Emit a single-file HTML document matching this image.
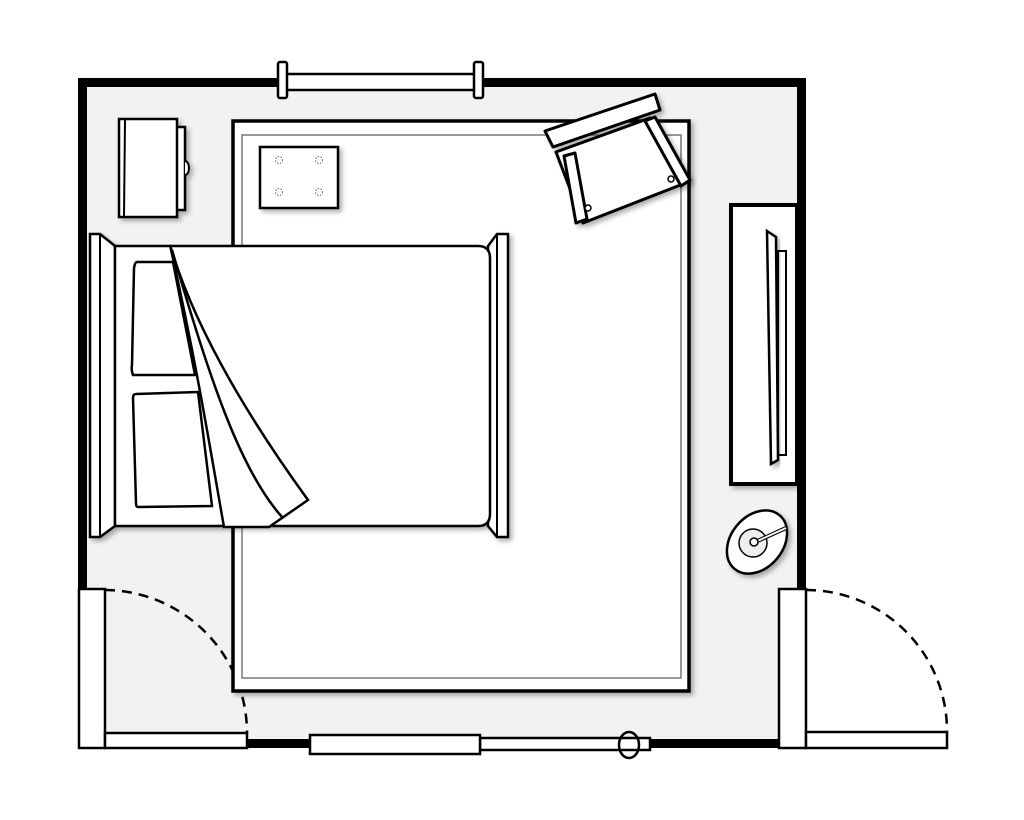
<!DOCTYPE html>
<html><head><meta charset="utf-8"><style>html,body{margin:0;padding:0;background:#fff}svg{display:block}</style></head>
<body>
<svg width="1024" height="820" viewBox="0 0 1024 820" xmlns="http://www.w3.org/2000/svg">
<defs>
<filter id="sh" x="-10%" y="-10%" width="130%" height="130%"><feDropShadow dx="3" dy="3" stdDeviation="2.5" flood-color="#000" flood-opacity="0.3"/></filter>
</defs>
<!-- floor -->
<rect x="86" y="87" width="711" height="653" fill="#f2f2f2"/>
<!-- walls -->
<rect x="78" y="78" width="728" height="9" fill="#000"/>
<rect x="78" y="78" width="9" height="512" fill="#000"/>
<rect x="797" y="78" width="9" height="512" fill="#000"/>
<rect x="245" y="739" width="70" height="9" fill="#000"/>
<rect x="645" y="739" width="140" height="9" fill="#000"/>
<!-- top window -->
<rect x="282" y="74" width="196" height="16" fill="#fff" stroke="#000" stroke-width="2.5"/>
<rect x="278" y="62" width="9" height="36" rx="2" fill="#fff" stroke="#000" stroke-width="2.5"/>
<rect x="474" y="62" width="9" height="36" rx="2" fill="#fff" stroke="#000" stroke-width="2.5"/>
<!-- bottom window -->
<rect x="480" y="738" width="170" height="12" fill="#fff" stroke="#000" stroke-width="2.5"/>
<ellipse cx="629" cy="745" rx="10" ry="13" fill="none" stroke="#000" stroke-width="2.5"/>
<rect x="310" y="735" width="170" height="19" fill="#fff" stroke="#000" stroke-width="2.5"/>
<!-- left door -->
<rect x="79" y="589" width="26" height="159" fill="#fff" stroke="#000" stroke-width="2.5"/>
<rect x="105" y="733" width="142" height="15" fill="#fff" stroke="#000" stroke-width="2.5"/>
<path d="M105,590 A143,143 0 0 1 247,733" fill="none" stroke="#000" stroke-width="2.5" stroke-dasharray="10,7"/>
<!-- right door -->
<rect x="779" y="589" width="27" height="159" fill="#fff" stroke="#000" stroke-width="2.5"/>
<rect x="806" y="732" width="141" height="16" fill="#fff" stroke="#000" stroke-width="2.5"/>
<path d="M806,590 A141,141 0 0 1 947,731" fill="none" stroke="#000" stroke-width="2.5" stroke-dasharray="10,7"/>
<!-- nightstand -->
<g filter="url(#sh)">
<rect x="174" y="127" width="11" height="83" fill="#fff" stroke="#000" stroke-width="2.5"/>
<path d="M185,161 a4,7 0 0 1 0,14" fill="#fff" stroke="#000" stroke-width="2"/>
<rect x="119" y="119" width="58" height="98" fill="#fff" stroke="#000" stroke-width="2.5"/>
<line x1="125" y1="120" x2="124" y2="216" stroke="#000" stroke-width="2"/>
</g>
<!-- rug -->
<rect x="233" y="121" width="456" height="570" fill="#fff" stroke="#000" stroke-width="3.5" filter="url(#sh)"/>
<rect x="242" y="135" width="439" height="543" fill="none" stroke="#777" stroke-width="1.5"/>
<!-- small box -->
<rect x="260" y="147" width="78" height="61" fill="#fff" stroke="#000" stroke-width="2.5" filter="url(#sh)"/>
<g fill="none" stroke="#666" stroke-width="1" stroke-dasharray="1.5,1.5">
<circle cx="279" cy="160" r="3.5"/><circle cx="319" cy="160" r="3.5"/><circle cx="279" cy="192" r="3.5"/><circle cx="319" cy="192" r="3.5"/>
</g>
<!-- bed -->
<g filter="url(#sh)">
<path d="M90,234 L100,234 L115,246 L115,526 L100,537 L90,537 Z" fill="#fff" stroke="#000" stroke-width="2.5"/>
<line x1="100" y1="234" x2="100" y2="537" stroke="#000" stroke-width="2"/>
<path d="M508,234 L497,234 L488,246 L488,526 L497,537 L508,537 Z" fill="#fff" stroke="#000" stroke-width="2.5"/>
<line x1="497" y1="234" x2="497" y2="537" stroke="#000" stroke-width="2"/>
<path d="M115,246 L478,246 Q490,246 490,258 L490,514 Q490,526 478,526 L115,526 Z" fill="#fff" stroke="#000" stroke-width="2.5"/>
</g>
<path d="M137,262 L173,262 L195,375 L133,375 Q131,370 132,365 L134,268 Q135,262 137,262 Z" fill="#fff" stroke="#000" stroke-width="2.5"/>
<path d="M136,394 L198,392 L212,506 L138,507 Q136,507 136,503 L133,398 Q133,394 136,394 Z" fill="#fff" stroke="#000" stroke-width="2.5"/>
<path d="M170,245 C195,330 250,420 308,500 L269,527 L224,527 C212,460 198,370 170,245 Z" fill="#fff" stroke="#000" stroke-width="2.5"/>
<path d="M172,250 C210,380 240,470 282,517" fill="none" stroke="#000" stroke-width="2.5"/>
<!-- armchair -->
<g filter="url(#sh)" stroke="#000" stroke-width="3" fill="#fff" stroke-linejoin="round">
<path d="M556,152 L650,118 L688,182 L583,223 Z"/>
<path d="M545,131 L655,94 L660,110 L553,147 Z"/>
<path d="M564,156 L575,153 L587,219 L576,223 Z"/>
<path d="M645,121 L655,117 L690,180 L681,186 Z"/>
</g>
<circle cx="588" cy="208" r="3" fill="#fff" stroke="#000" stroke-width="1.5"/>
<circle cx="671" cy="179" r="3" fill="#fff" stroke="#000" stroke-width="1.5"/>
<!-- TV cabinet -->
<rect x="731" y="205" width="66" height="279" fill="#fff" stroke="#000" stroke-width="4" filter="url(#sh)"/>
<rect x="778" y="251" width="8" height="204" fill="#fff" stroke="#000" stroke-width="2"/>
<path d="M767,231 L776,237 L778,460 L771,464 Z" fill="#fff" stroke="#000" stroke-width="2.5" filter="url(#sh)"/>
<!-- lamp -->
<g filter="url(#sh)">
<ellipse cx="757" cy="542" rx="26" ry="35" transform="rotate(40 757 542)" fill="#fff" stroke="#000" stroke-width="2.5"/>
</g>
<circle cx="753" cy="543" r="14" fill="#eee" stroke="#000" stroke-width="1.5"/>
<line x1="753" y1="543" x2="786" y2="528" stroke="#000" stroke-width="4"/>
<line x1="753" y1="543" x2="786" y2="528" stroke="#fff" stroke-width="1.8"/>
<circle cx="754" cy="542" r="4" fill="#fff" stroke="#000" stroke-width="1.5"/>
</svg>
</body></html>
